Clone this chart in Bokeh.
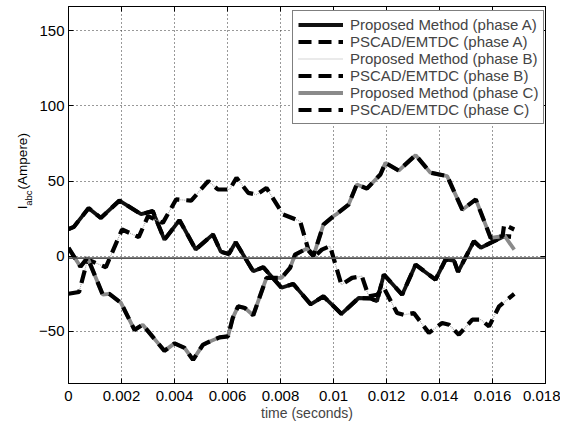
import math
from bokeh.plotting import figure
from bokeh.layouts import row
from bokeh.models import (FixedTicker, LinearAxis, Span, Range1d, Legend, LegendItem)
from bokeh.core.properties import value
from bokeh.embed import file_html
from bokeh.resources import INLINE

# ---------------- data (time in ms, current in A) ----------------
t_a_ms = [0, 0.2, 0.76, 1.22, 1.92, 2.74, 3.18, 3.62, 4.19, 4.8, 5.45, 5.75, 6.05, 6.31,
          6.97, 7.35, 8.04, 8.48, 9.14, 9.62, 10.3, 10.95, 11.4, 11.64, 11.9, 12.59,
          13.1, 13.85, 14.23, 14.55, 14.7, 15.3, 15.56, 15.94, 16.44, 16.7]
ia_proposed = [18, 19.5, 32, 25.5, 37, 28, 30, 11, 24, 4.5, 14.5, 3, 1.5, 9.3,
               -10, -7.3, -21, -18.4, -32, -26.7, -38.4, -27.8, -28, -30, -12.2, -25.6,
               -5.6, -15.6, -2.2, -3, -10.4, 10, 5.6, 9, 13.3, 13]
ia_pscad = [18, 19.5, 32, 25.5, 37, 28, 30, 11, 24, 4.5, 14.5, 3, 1.5, 9.3,
            -10, -7.3, -21, -18.4, -32, -26.7, -38.4, -27.8, -28, -30, -12.2, -25.6,
            -5.6, -15.6, -2.2, -3, -10.4, 10, 5.6, 9, 13.3, 13]

t_b_ms = [0, 0.4, 0.72, 1.41, 2.02, 2.65, 3.0, 3.56, 4.06, 4.63, 5.27, 5.64, 6.08, 6.34,
          6.78, 7.1, 7.47, 8.1, 8.74, 9.05, 9.3, 9.56, 9.87, 10.3, 10.7, 11.07, 11.33,
          11.64, 11.9, 12.4, 12.65, 13.03, 13.6, 14.1, 14.36, 14.73, 15.24, 15.56,
          15.87, 16.25, 16.82]
ib_proposed = [-25, -23.8, -2.2, -7.3, 17.8, 12.7, 26.7, 22.2, 37.8, 37, 50, 44.4, 44.4, 52.2,
               42.2, 41, 45.5, 27.8, 23.3, 4.4, 0, 4.4, 6.7, -19, -14.4, -13.3, -26.7,
               -25.6, -21, -37.8, -39, -37.8, -51, -44.4, -45.6, -52.2, -42.2, -42.2,
               -46.7, -33.3, -25]
ib_pscad = [-25, -23.8, -2.2, -7.3, 17.8, 12.7, 26.7, 22.2, 37.8, 37, 50, 44.4, 44.4, 52.2,
            42.2, 41, 45.5, 27.8, 23.3, 4.4, 0, 4.4, 6.7, -19, -14.4, -13.3, -26.7,
            -25.6, -21, -37.8, -39, -37.8, -51, -44.4, -45.6, -52.2, -42.2, -42.2,
            -46.7, -33.3, -25]

t_c_ms = [0, 0.45, 0.72, 1.29, 1.54, 1.98, 2.49, 2.8, 3.62, 4.0, 4.38, 4.7, 5.07, 5.2,
          5.7, 6.02, 6.2, 6.4, 6.65, 6.97, 7.47, 8.04, 8.36, 8.55, 8.99, 9.24, 9.62,
          10.0, 10.1, 10.57, 10.88, 11.26, 11.77, 11.96, 12.46, 13.1, 13.66, 14.29,
          14.86, 15.37, 15.93, 16.38, 16.44, 16.82]
ic_proposed = [5.6, -7, -1, -25.5, -25, -31, -49, -45.6, -63, -58, -61, -69, -59, -57.8,
               -54, -53.3, -41, -33.3, -34.4, -39.3, -14.4, -14.4, -7.8, 1.1, 5.1, 0, 21,
               26.7, 27.8, 34.4, 47.8, 45, 54.4, 62.2, 57, 67.3, 55.6, 53.3,
               31, 37.8, 12.2, 13.3, 14, 4.4]
ic_pscad = [5.6, -7, -1, -25.5, -25, -31, -49, -45.6, -63, -58, -61, -69, -59, -57.8,
            -54, -53.3, -41, -33.3, -34.4, -39.3, -14.4, -14.4, -7.8, 1.1, 5.1, 0, 21,
            26.7, 27.8, 34.4, 47.8, 45, 54.4, 62.2, 57, 67.3, 55.6, 53.3,
            31, 37.8, 12.2, 13.3, 21, 17.8]

x_ticks = [0, 0.002, 0.004, 0.006, 0.008, 0.01, 0.012, 0.014, 0.016, 0.018]
x_tick_labels = ["0", "0.002", "0.004", "0.006", "0.008", "0.01", "0.012", "0.014", "0.016", "0.018"]
y_ticks = [-50, 0, 50, 100, 150]
y_tick_labels = ["\u221250", "0", "50", "100", "150"]

legend_labels = ["Proposed Method (phase A)", "PSCAD/EMTDC (phase A)",
                 "Proposed Method (phase B)", "PSCAD/EMTDC (phase B)",
                 "Proposed Method (phase C)", "PSCAD/EMTDC (phase C)"]

y_label_parts = ["I", "abc", "(Ampere)"]


def sec(ms):
    return [v / 1000.0 for v in ms]


FONT = "Liberation Sans"
Y_LO, Y_HI = -84.7, 166.2
TOTAL_H = 423
LAB_W = 36

p = figure(width=524, height=TOTAL_H, output_backend="svg", toolbar_location=None,
           x_range=Range1d(0, 0.018), y_range=Range1d(Y_LO, Y_HI),
           min_border_left=31, min_border_right=15, min_border_top=6, min_border_bottom=40)
p.background_fill_color = "white"
p.border_fill_color = "white"
p.outline_line_color = "black"
p.outline_line_width = 1

for g in (p.xgrid, p.ygrid):
    g.grid_line_color = "#333333"
    g.grid_line_dash = "1 3"
    g.grid_line_width = 1
p.xgrid.ticker = FixedTicker(ticks=x_ticks)
p.ygrid.ticker = FixedTicker(ticks=y_ticks)


def style_axis(ax, labels=True):
    ax.axis_line_color = "black"
    ax.major_tick_in = 5
    ax.major_tick_out = 0
    ax.minor_tick_line_color = None
    ax.major_tick_line_color = "black"
    ax.major_label_text_font = FONT
    if labels:
        ax.major_label_text_font_size = "15px"
        ax.major_label_text_color = "black"
        ax.major_label_standoff = 5
    else:
        ax.major_label_text_font_size = "1px"
        ax.major_label_text_color = None
        ax.major_label_standoff = 0


xa = p.xaxis[0]
xa.ticker = FixedTicker(ticks=x_ticks)
xa.major_label_overrides = {t: l for t, l in zip(x_ticks, x_tick_labels)}
style_axis(xa)
xa.major_label_standoff = 7
xa.axis_label = "time (seconds)"
xa.axis_label_text_font = FONT
xa.axis_label_text_font_size = "14px"
xa.axis_label_text_font_style = "normal"
xa.axis_label_standoff = 1

ya = p.yaxis[0]
ya.ticker = FixedTicker(ticks=y_ticks)
ya.major_label_overrides = {t: l for t, l in zip(y_ticks, y_tick_labels)}
style_axis(ya)
ya.major_label_standoff = 4

top_ax = LinearAxis(ticker=FixedTicker(ticks=x_ticks))
style_axis(top_ax, labels=False)
p.add_layout(top_ax, "above")
right_ax = LinearAxis(ticker=FixedTicker(ticks=y_ticks))
style_axis(right_ax, labels=False)
p.add_layout(right_ax, "right")

p.add_layout(Span(location=-1.2, dimension="width", line_color="#555555", line_width=1.8))

DASH = "13 7"
r1 = p.line(sec(t_a_ms), ia_proposed, line_color="#111111", line_width=3.8)
r2 = p.line(sec(t_a_ms), ia_pscad, line_color="black", line_width=4.2, line_dash=DASH)
r3 = p.line(sec(t_b_ms), ib_proposed, line_color="#aaaaaa", line_width=1.2, line_dash="1 1")
r4 = p.line(sec(t_b_ms), ib_pscad, line_color="black", line_width=4.2, line_dash=DASH)
r5 = p.line(sec(t_c_ms), ic_proposed, line_color="#8a8a8a", line_width=3.8)
r6 = p.line(sec(t_c_ms), ic_pscad, line_color="black", line_width=4.2, line_dash=DASH)

legend = Legend(items=[LegendItem(label=l, renderers=[r]) for l, r in
                       zip(legend_labels, [r1, r2, r3, r4, r5, r6])])
legend.location = (224, 259)
legend.margin = 0
legend.padding = 5
legend.spacing = 0
legend.glyph_width = 45
legend.glyph_height = 17
legend.label_height = 17
legend.label_standoff = 7
legend.label_text_font = FONT
legend.label_text_font_size = "15px"
legend.border_line_color = "black"
legend.border_line_width = 1
legend.background_fill_alpha = 1
p.add_layout(legend, "center")

# ---- y-axis label panel (rotated I_abc (Ampere)), coordinates in panel pixels ----
lab = figure(width=LAB_W, height=TOTAL_H, output_backend="svg", toolbar_location=None,
             x_range=Range1d(0, LAB_W), y_range=Range1d(0, TOTAL_H),
             x_axis_type=None, y_axis_type=None,
             min_border_left=0, min_border_right=0, min_border_top=0, min_border_bottom=0)
lab.outline_line_color = None
lab.border_fill_color = "white"
lab.xgrid.visible = False
lab.ygrid.visible = False
lab.text(x=[22, 28, 22], y=[195.5, 199.3, 217.8], text=y_label_parts,
         angle=math.pi / 2, text_font=value(FONT),
         text_font_size=["13.5px", "9.5px", "13.5px"],
         text_baseline="alphabetic", text_align="left", text_color="black")

layout = row(lab, p)
open("out.html", "w").write(file_html(layout, INLINE))
